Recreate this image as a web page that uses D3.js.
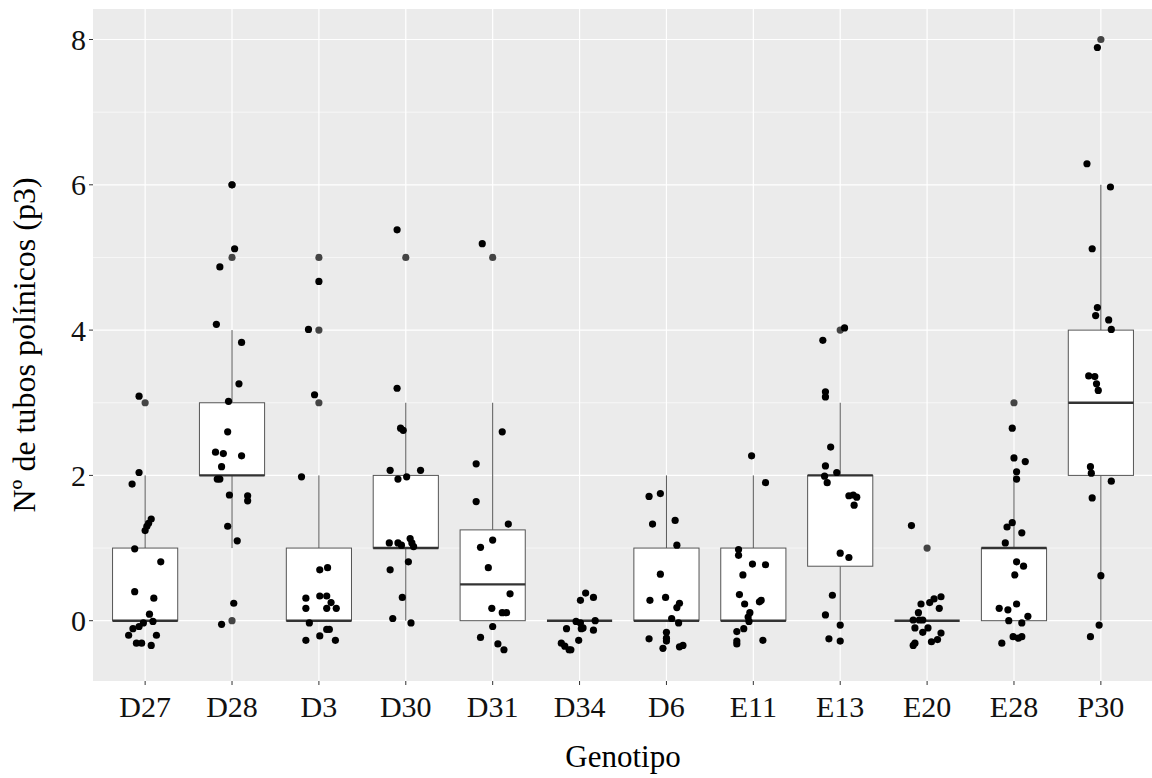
<!doctype html>
<head>
  <style>
    body {
      margin: 0;
      background: #fff;
    }
    svg {
      display: block;
      font-family: "Liberation Serif", "Times New Roman", serif;
    }
  </style>
<script src="https://cdnjs.cloudflare.com/ajax/libs/d3/7.8.5/d3.min.js"></script>
</head>
<body>
<script>

var genotipos = ["D27", "D28", "D3", "D30", "D31", "D34", "D6", "E11", "E13", "E20", "E28", "P30"];
var q1 =        [0, 2, 0, 1, 0,    0, 0, 0, 0.75, 0, 0, 2];
var mediana =   [0, 2, 0, 1, 0.5,  0, 0, 0, 2,    0, 1, 3];
var q3 =        [1, 3, 1, 2, 1.25, 0, 1, 1, 2,    0, 1, 4];
var bigoteInf = [0, 1, 0, 0, 0,    0, 0, 0, 0,    0, 0, 0];
var bigoteSup = [2, 4, 2, 3, 3,    0, 2, 2, 3,    0, 2, 6];
var atipicos = [[3], [0, 5, 6], [3, 4, 5], [5], [5], [], [], [], [4], [1], [3], [8]];

// jitter: [desplazamiento en fracción de la categoría, valor]
var puntos = [
  [[-0.07,3.09],[-0.07,2.04],[-0.15,1.88],[0.07,1.40],[0.04,1.34],[0.02,1.30],[0,1.24],[-0.12,0.99],[0.18,0.81],[-0.12,0.40],[0.10,0.31],[0.05,0.09],[0.09,-0.01],[-0.02,-0.03],[-0.07,-0.08],[-0.14,-0.11],[-0.19,-0.20],[0.13,-0.20],[-0.10,-0.31],[-0.04,-0.31],[0.07,-0.34]],
  [[0,6.0],[0.03,5.12],[-0.14,4.87],[-0.18,4.08],[0.11,3.83],[0.08,3.26],[-0.04,3.02],[-0.05,2.60],[-0.19,2.32],[-0.10,2.30],[0.11,2.27],[-0.12,2.12],[-0.17,1.95],[-0.14,1.95],[-0.03,1.73],[0.18,1.72],[0.18,1.65],[-0.05,1.30],[0.06,1.10],[0.02,0.24],[-0.12,-0.05]],
  [[-0.05,3.11],[-0.12,4.01],[0,4.67],[-0.20,1.98],[0.01,0.70],[0.10,0.73],[-0.15,0.31],[0.01,0.34],[0.09,0.34],[-0.15,0.17],[0.09,0.17],[0.14,0.25],[0.20,0.17],[-0.11,-0.03],[0.09,-0.12],[0.12,-0.12],[0.01,-0.21],[-0.15,-0.27],[0.19,-0.27]],
  [[-0.10,5.38],[-0.10,3.2],[-0.06,2.65],[-0.03,2.62],[-0.18,2.07],[0.17,2.07],[-0.09,1.95],[0.01,1.98],[-0.19,1.07],[-0.09,1.07],[-0.05,1.04],[0.05,1.13],[0.07,1.07],[0.09,1.02],[0.03,0.81],[-0.18,0.70],[-0.04,0.32],[-0.15,0.03],[0.06,-0.03]],
  [[-0.12,5.19],[0.11,2.60],[-0.19,2.16],[-0.19,1.64],[0.18,1.33],[0,1.11],[-0.14,1.01],[-0.05,0.73],[0.20,0.37],[-0.01,0.17],[0.11,0.11],[0.16,0.11],[0,-0.08],[-0.14,-0.23],[0.06,-0.32],[0.13,-0.40]],
  [[0.07,0.38],[0.01,0.28],[0.16,0.32],[-0.04,-0.01],[0.01,-0.03],[0.18,0],[-0.15,-0.11],[0.02,-0.11],[0.16,-0.13],[-0.21,-0.31],[-0.17,-0.35],[-0.12,-0.40],[-0.10,-0.40],[-0.01,-0.27],[0.04,-0.10]],
  [[-0.20,1.71],[-0.07,1.75],[-0.16,1.33],[0.10,1.38],[0.12,1.04],[-0.07,0.64],[-0.19,0.28],[-0.01,0.32],[0.15,0.24],[0.12,0.18],[0.06,0.03],[0.14,-0.03],[0,-0.16],[0,-0.24],[-0.20,-0.25],[0,-0.28],[-0.04,-0.38],[0.15,-0.36],[0.19,-0.34]],
  [[-0.02,2.27],[0.14,1.90],[-0.17,0.98],[-0.17,0.90],[-0.01,0.78],[0.14,0.77],[-0.12,0.63],[-0.16,0.36],[-0.10,0.23],[0.07,0.26],[0.09,0.28],[-0.04,0.11],[-0.06,0.05],[-0.05,-0.01],[-0.11,-0.11],[-0.19,-0.15],[-0.19,-0.28],[-0.19,-0.32],[0.11,-0.27]],
  [[0.05,4.03],[-0.20,3.86],[-0.17,3.15],[-0.17,3.08],[-0.11,2.39],[-0.17,2.13],[-0.04,2.04],[-0.18,1.99],[-0.15,1.90],[0.10,1.72],[0.15,1.73],[0.19,1.70],[0.16,1.59],[0,0.93],[0.10,0.87],[-0.09,0.35],[-0.17,0.08],[0,-0.06],[-0.13,-0.25],[0,-0.28]],
  [[-0.18,1.31],[-0.07,0.23],[0.03,0.25],[0.08,0.30],[0.16,0.33],[0.14,0.17],[-0.10,0.11],[-0.16,0.01],[-0.09,0.01],[-0.05,0.01],[-0.14,-0.10],[0.01,-0.10],[-0.05,-0.16],[0.16,-0.17],[0.12,-0.26],[0.05,-0.29],[-0.14,-0.31],[-0.16,-0.34]],
  [[-0.02,2.65],[0,2.24],[0.13,2.19],[0.03,2.05],[0.03,1.95],[-0.02,1.35],[-0.08,1.29],[0.09,1.21],[-0.10,1.07],[0.03,0.81],[0.11,0.75],[0.01,0.63],[0.03,0.23],[-0.17,0.17],[-0.07,0.15],[0.16,0.06],[-0.06,0.0],[0.09,-0.03],[-0.01,-0.22],[0.05,-0.24],[0.09,-0.22],[-0.14,-0.31]],
  [[-0.04,7.89],[-0.16,6.29],[0.11,5.97],[-0.10,5.12],[-0.04,4.31],[-0.06,4.20],[0.09,4.14],[0.12,4.01],[-0.14,3.37],[-0.07,3.36],[-0.05,3.26],[-0.03,3.17],[-0.12,2.12],[-0.11,2.03],[0.12,1.92],[-0.10,1.69],[0,0.62],[-0.02,-0.06],[-0.12,-0.22]]
];

var yTicks = [0, 2, 4, 6, 8];
var yMinor = [1, 3, 5, 7];

var W = 1152, H = 778;
var pLeft = 93, pRight = 1153, pTop = 9, pBottom = 681;

var svg = d3.select("body").append("svg")
  .attr("width", W)
  .attr("height", H);

var x = d3.scalePoint()
  .domain(genotipos)
  .range([pLeft, pRight])
  .padding(0.6);
var step = x.step();

var y = d3.scaleLinear()
  .domain([-0.83, 8.42])
  .range([pBottom, pTop]);

// panel
svg.append("rect")
  .attr("x", pLeft)
  .attr("y", pTop)
  .attr("width", pRight - pLeft)
  .attr("height", pBottom - pTop)
  .attr("fill", "#ebebeb");

svg.selectAll(".minor")
  .data(yMinor).enter()
  .append("line")
    .attr("x1", pLeft).attr("x2", pRight)
    .attr("y1", d => y(d)).attr("y2", d => y(d))
    .attr("stroke", "#fff")
    .attr("stroke-width", 0.6);

svg.selectAll(".major")
  .data(yTicks).enter()
  .append("line")
    .attr("x1", pLeft).attr("x2", pRight)
    .attr("y1", d => y(d)).attr("y2", d => y(d))
    .attr("stroke", "#fff")
    .attr("stroke-width", 1.2);

svg.selectAll(".vgrid")
  .data(genotipos).enter()
  .append("line")
    .attr("x1", d => x(d)).attr("x2", d => x(d))
    .attr("y1", pTop).attr("y2", pBottom)
    .attr("stroke", "#fff")
    .attr("stroke-width", 1.2);

// boxplots
var bw = step * 0.75;
var idx = d3.range(genotipos.length);
var boxes = svg.selectAll(".box")
  .data(idx).enter()
  .append("g");

boxes.append("line")
  .attr("x1", i => x(genotipos[i])).attr("x2", i => x(genotipos[i]))
  .attr("y1", i => y(q3[i])).attr("y2", i => y(bigoteSup[i]))
  .attr("stroke", "#555").attr("stroke-width", 1);
boxes.append("line")
  .attr("x1", i => x(genotipos[i])).attr("x2", i => x(genotipos[i]))
  .attr("y1", i => y(q1[i])).attr("y2", i => y(bigoteInf[i]))
  .attr("stroke", "#555").attr("stroke-width", 1);
boxes.append("rect")
  .attr("x", i => x(genotipos[i]) - bw / 2)
  .attr("y", i => y(q3[i]))
  .attr("width", bw)
  .attr("height", i => y(q1[i]) - y(q3[i]))
  .attr("fill", "#fff")
  .attr("stroke", "#555")
  .attr("stroke-width", 1);
boxes.append("line")
  .attr("x1", i => x(genotipos[i]) - bw / 2).attr("x2", i => x(genotipos[i]) + bw / 2)
  .attr("y1", i => y(mediana[i])).attr("y2", i => y(mediana[i]))
  .attr("stroke", "#333").attr("stroke-width", 2.4);

// outliers
var outs = [];
atipicos.forEach((a, i) => a.forEach(v => outs.push([genotipos[i], v])));
svg.selectAll(".out")
  .data(outs).enter()
  .append("circle")
    .attr("cx", d => x(d[0]))
    .attr("cy", d => y(d[1]))
    .attr("r", 3.6)
    .attr("fill", "#444");

// jitter
var pts = [];
puntos.forEach((a, i) => a.forEach(p => pts.push([genotipos[i], p[0], p[1]])));
svg.selectAll(".pt")
  .data(pts).enter()
  .append("circle")
    .attr("cx", d => x(d[0]) + d[1] * step)
    .attr("cy", d => y(d[2]))
    .attr("r", 3.6)
    .attr("fill", "#000");

// axes
svg.selectAll(".ytick")
  .data(yTicks).enter()
  .append("line")
    .attr("x1", pLeft - 4).attr("x2", pLeft)
    .attr("y1", d => y(d)).attr("y2", d => y(d))
    .attr("stroke", "#333");
svg.selectAll(".ylab")
  .data(yTicks).enter()
  .append("text")
    .attr("x", pLeft - 7)
    .attr("y", d => y(d))
    .attr("dy", "0.35em")
    .attr("text-anchor", "end")
    .style("font-size", "30px")
    .attr("fill", "#111")
    .text(d => d);

svg.selectAll(".xtick")
  .data(genotipos).enter()
  .append("line")
    .attr("x1", d => x(d)).attr("x2", d => x(d))
    .attr("y1", pBottom).attr("y2", pBottom + 4)
    .attr("stroke", "#333");
svg.selectAll(".xlab")
  .data(genotipos).enter()
  .append("text")
    .attr("x", d => x(d))
    .attr("y", 717)
    .attr("text-anchor", "middle")
    .style("font-size", "30px")
    .attr("fill", "#111")
    .text(d => d);

svg.append("text")
  .attr("x", (pLeft + pRight) / 2)
  .attr("y", 767)
  .attr("text-anchor", "middle")
  .style("font-size", "31px")
  .attr("fill", "#000")
  .text("Genotipo");

svg.append("text")
  .attr("transform", "translate(35," + ((pTop + pBottom) / 2) + ") rotate(-90)")
  .attr("text-anchor", "middle")
  .style("font-size", "32px")
  .attr("fill", "#000")
  .text("Nº de tubos polínicos (p3)");

</script>
</body>
